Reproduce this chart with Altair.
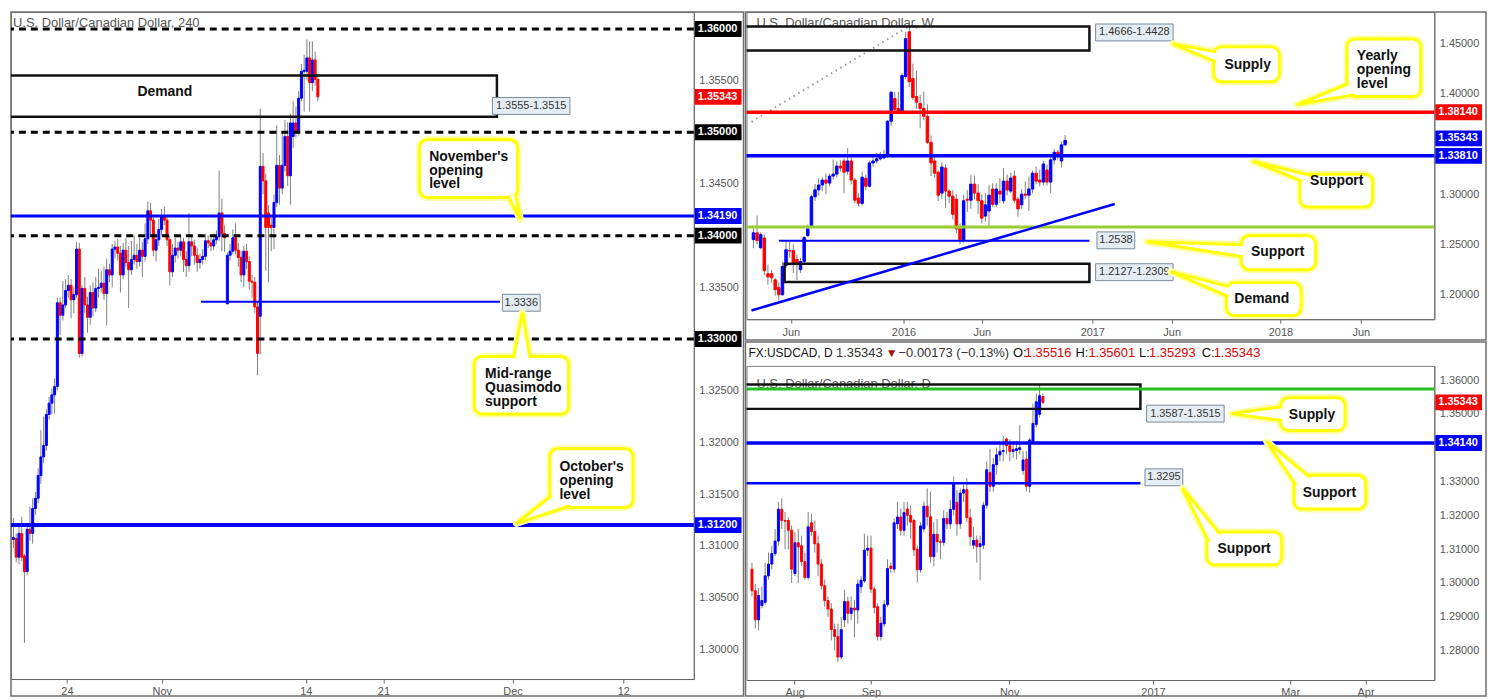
import altair as alt
import pandas as pd

FONT = "Liberation Sans"
UP_C, DN_C, WICK_C = "#0000ff", "#ff0000", "#7f7f7f"
YEL, HALO = "#ffff00", "#ffffa8"
LBL, FRAME = "#555555", "#6e6e6e"

# ================= 4-hour panel (left) =================
h4_open = [1.3106, 1.3107, 1.3089, 1.3112, 1.3090, 1.3075, 1.3116, 1.3112, 1.3136, 1.3146,
           1.3168, 1.3186, 1.3197, 1.3227, 1.3238, 1.3246, 1.3254, 1.3335, 1.3323, 1.3333,
           1.3347, 1.3352, 1.3338, 1.3343, 1.3387, 1.3286, 1.3349, 1.3333, 1.3321, 1.3345,
           1.3330, 1.3349, 1.3350, 1.3354, 1.3344, 1.3367, 1.3362, 1.3387, 1.3389, 1.3383,
           1.3362, 1.3386, 1.3374, 1.3367, 1.3377, 1.3381, 1.3375, 1.3386, 1.3380, 1.3397,
           1.3424, 1.3415, 1.3386, 1.3396, 1.3406, 1.3419, 1.3415, 1.3396, 1.3365, 1.3381,
           1.3388, 1.3386, 1.3394, 1.3377, 1.3371, 1.3394, 1.3390, 1.3381, 1.3374, 1.3377,
           1.3380, 1.3395, 1.3393, 1.3390, 1.3396, 1.3399, 1.3422, 1.3402, 1.3334, 1.3381,
           1.3385, 1.3398, 1.3386, 1.3379, 1.3362, 1.3385, 1.3375, 1.3356, 1.3355, 1.3331,
           1.3322, 1.3467, 1.3453, 1.3422, 1.3410, 1.3408, 1.3432, 1.3468, 1.3446, 1.3468,
           1.3496, 1.3458, 1.3496, 1.3509, 1.3500, 1.3533, 1.3559, 1.3559, 1.3572, 1.3548,
           1.3570, 1.3551]
h4_close = [1.3108, 1.3089, 1.3112, 1.3089, 1.3075, 1.3116, 1.3112, 1.3136, 1.3146, 1.3168,
            1.3186, 1.3197, 1.3227, 1.3238, 1.3246, 1.3254, 1.3335, 1.3323, 1.3333, 1.3347,
            1.3352, 1.3338, 1.3343, 1.3387, 1.3286, 1.3349, 1.3333, 1.3321, 1.3345, 1.3330,
            1.3349, 1.3350, 1.3354, 1.3344, 1.3367, 1.3362, 1.3387, 1.3389, 1.3383, 1.3362,
            1.3386, 1.3374, 1.3367, 1.3377, 1.3381, 1.3375, 1.3386, 1.3380, 1.3397, 1.3424,
            1.3415, 1.3386, 1.3396, 1.3406, 1.3419, 1.3415, 1.3396, 1.3365, 1.3381, 1.3388,
            1.3386, 1.3394, 1.3377, 1.3371, 1.3394, 1.3390, 1.3381, 1.3374, 1.3377, 1.3380,
            1.3395, 1.3393, 1.3390, 1.3396, 1.3399, 1.3422, 1.3402, 1.3398, 1.3381, 1.3385,
            1.3398, 1.3386, 1.3379, 1.3362, 1.3385, 1.3375, 1.3356, 1.3355, 1.3331, 1.3286,
            1.3467, 1.3453, 1.3408, 1.3408, 1.3408, 1.3432, 1.3468, 1.3446, 1.3468, 1.3496,
            1.3458, 1.3509, 1.3509, 1.3500, 1.3533, 1.3559, 1.3560, 1.3572, 1.3548, 1.3570,
            1.3551, 1.35343]
h4_high = [1.3127, 1.3112, 1.3122, 1.3128, 1.3092, 1.3120, 1.3138, 1.3146, 1.3152, 1.3175,
           1.3212, 1.3225, 1.3232, 1.3244, 1.3252, 1.3262, 1.3340, 1.3340, 1.3356, 1.3358,
           1.3362, 1.3358, 1.3350, 1.3394, 1.3393, 1.3352, 1.3360, 1.3341, 1.3352, 1.3355,
           1.3360, 1.3368, 1.3366, 1.3370, 1.3378, 1.3373, 1.3392, 1.3395, 1.3397, 1.3390,
           1.3393, 1.3398, 1.3390, 1.3395, 1.3400, 1.3392, 1.3398, 1.3394, 1.3412, 1.3433,
           1.3432, 1.3420, 1.3402, 1.3416, 1.3426, 1.3428, 1.3420, 1.3400, 1.3392, 1.3398,
           1.3394, 1.3400, 1.3398, 1.3385, 1.3422, 1.3400, 1.3396, 1.3388, 1.3382, 1.3387,
           1.3402, 1.3400, 1.3398, 1.3402, 1.3405, 1.3463, 1.3436, 1.3410, 1.3384, 1.3392,
           1.3406, 1.3412, 1.3393, 1.3385, 1.3390, 1.3392, 1.3380, 1.3362, 1.3360, 1.3336,
           1.3523, 1.3480, 1.3460, 1.3430, 1.3418, 1.3440, 1.3507, 1.3478, 1.3500, 1.3512,
           1.3510, 1.3518, 1.3530, 1.3525, 1.3540, 1.3566, 1.3575, 1.3590, 1.3588, 1.3588,
           1.3578, 1.3556]
h4_low = [1.3098, 1.3084, 1.3082, 1.3085, 1.3006, 1.3072, 1.3105, 1.3102, 1.3130, 1.3141,
          1.3160, 1.3180, 1.3192, 1.3222, 1.3227, 1.3228, 1.3250, 1.3304, 1.3318, 1.3330,
          1.3340, 1.3320, 1.3325, 1.3340, 1.3282, 1.3283, 1.3325, 1.3306, 1.3314, 1.3322,
          1.3326, 1.3340, 1.3345, 1.3338, 1.3313, 1.3355, 1.3350, 1.3378, 1.3376, 1.3345,
          1.3358, 1.3370, 1.3330, 1.3362, 1.3372, 1.3368, 1.3370, 1.3360, 1.3375, 1.3392,
          1.3400, 1.3380, 1.3375, 1.3390, 1.3400, 1.3410, 1.3390, 1.3352, 1.3360, 1.3374,
          1.3378, 1.3380, 1.3365, 1.3360, 1.3365, 1.3380, 1.3372, 1.3365, 1.3368, 1.3372,
          1.3376, 1.3388, 1.3385, 1.3386, 1.3392, 1.3395, 1.3385, 1.3384, 1.3334, 1.3376,
          1.3382, 1.3382, 1.3370, 1.3355, 1.3350, 1.3368, 1.3348, 1.3340, 1.3325, 1.3265,
          1.3285, 1.3440, 1.3366, 1.3355, 1.3385, 1.3387, 1.3428, 1.3430, 1.3440, 1.3462,
          1.3448, 1.3430, 1.3485, 1.3495, 1.3497, 1.3530, 1.3520, 1.3550, 1.3520, 1.3540,
          1.3545, 1.3530]
h4_tick_pos = [20, 54.6, 107.1, 135.4, 182.5, 222.9]
h4_tick_lab = ["24", "Nov", "14", "21", "Dec", "12"]
# grey axis labels (the round levels are shown as black tags instead)
h4_price_ticks = [1.300, 1.305, 1.310, 1.315, 1.320, 1.325, 1.335, 1.345, 1.355]
h4_round_levels = [1.36, 1.35, 1.34, 1.33]
h4_nov_open = 1.3419
h4_oct_open = 1.3120
h4_qm = 1.3336
h4_demand = [1.3515, 1.3555]

# ================= Weekly panel (top right) =================
wk_open = [1.2549, 1.2616, 1.2468, 1.2565, 1.2210, 1.2210, 1.2149, 1.2072, 1.2001, 1.2291,
           1.2440, 1.2438, 1.2351, 1.2250, 1.2331, 1.2589, 1.2687, 1.2975, 1.3043, 1.3091,
           1.3140, 1.3110, 1.3180, 1.3199, 1.3280, 1.3330, 1.3229, 1.3330, 1.3140, 1.2960,
           1.2909, 1.3158, 1.3079, 1.3310, 1.3330, 1.3351, 1.3361, 1.3381, 1.3725, 1.3951,
           1.3852, 1.3822, 1.4168, 1.4613, 1.4149, 1.3970, 1.3902, 1.3852, 1.3774, 1.3515,
           1.3330, 1.3219, 1.3011, 1.3260, 1.3031, 1.2980, 1.2950, 1.2656, 1.2549, 1.2950,
           1.2940, 1.3100, 1.3011, 1.2935, 1.2783, 1.2833, 1.3051, 1.2900, 1.3031, 1.2934,
           1.3130, 1.3031, 1.3180, 1.2950, 1.2894, 1.3001, 1.2990, 1.3051, 1.3209, 1.3140,
           1.3120, 1.3240, 1.3120, 1.3341, 1.3417, 1.3330, 1.3490]
wk_close = [1.2616, 1.2539, 1.2600, 1.2240, 1.2179, 1.2169, 1.2052, 1.2001, 1.2281, 1.2448,
            1.2436, 1.2301, 1.2301, 1.2331, 1.2569, 1.2656, 1.2975, 1.3043, 1.3091, 1.3140,
            1.3110, 1.3180, 1.3199, 1.3280, 1.3260, 1.3219, 1.3330, 1.3140, 1.2940, 1.2909,
            1.3169, 1.3079, 1.3310, 1.3330, 1.3351, 1.3371, 1.3381, 1.3725, 1.4012, 1.3843,
            1.3822, 1.4178, 1.4545, 1.4118, 1.3960, 1.3913, 1.3852, 1.3774, 1.3515, 1.3310,
            1.3209, 1.2990, 1.3270, 1.3031, 1.2980, 1.2800, 1.2656, 1.2549, 1.2935, 1.2940,
            1.3100, 1.3011, 1.2935, 1.2762, 1.2894, 1.2990, 1.2900, 1.3051, 1.3001, 1.3130,
            1.3041, 1.3160, 1.2940, 1.2854, 1.3000, 1.2990, 1.3051, 1.3209, 1.3130, 1.3120,
            1.3300, 1.3120, 1.3341, 1.3417, 1.3386, 1.3490, 1.35343]
wk_high = [1.2679, 1.2788, 1.2619, 1.2599, 1.2301, 1.2248, 1.2168, 1.2122, 1.2328, 1.2543,
           1.2533, 1.2503, 1.2398, 1.2368, 1.2583, 1.2699, 1.2994, 1.3101, 1.3157, 1.3167,
           1.3205, 1.3205, 1.3345, 1.3325, 1.3335, 1.3355, 1.3460, 1.3400, 1.3160, 1.3009,
           1.3225, 1.3195, 1.3335, 1.3365, 1.3410, 1.3420, 1.3440, 1.3735, 1.4027, 1.4017,
           1.4017, 1.4202, 1.4613, 1.4700, 1.4296, 1.4228, 1.3987, 1.4020, 1.3893, 1.3585,
           1.3375, 1.3235, 1.3315, 1.3295, 1.3049, 1.3039, 1.2999, 1.2709, 1.2994, 1.3039,
           1.3189, 1.3185, 1.3099, 1.2999, 1.3010, 1.3089, 1.3108, 1.3108, 1.3158, 1.3260,
           1.3195, 1.3215, 1.3235, 1.2970, 1.3049, 1.3128, 1.3176, 1.3235, 1.3275, 1.3245,
           1.3335, 1.3295, 1.3365, 1.3450, 1.3440, 1.3525, 1.3588]
wk_low = [1.2463, 1.2503, 1.2453, 1.2198, 1.2100, 1.2118, 1.1992, 1.1944, 1.1992, 1.2268,
          1.2368, 1.2218, 1.2148, 1.2218, 1.2308, 1.2573, 1.2659, 1.2934, 1.2984, 1.3029,
          1.2999, 1.3077, 1.3145, 1.3165, 1.3225, 1.3009, 1.3195, 1.3097, 1.2909, 1.2880,
          1.2889, 1.3039, 1.3067, 1.3275, 1.3305, 1.3335, 1.3345, 1.3365, 1.3677, 1.3821,
          1.3810, 1.3810, 1.4142, 1.4065, 1.3937, 1.3850, 1.3655, 1.3735, 1.3497, 1.3180,
          1.3165, 1.2932, 1.2950, 1.2862, 1.2911, 1.2752, 1.2610, 1.2500, 1.2518, 1.2824,
          1.2854, 1.2950, 1.2805, 1.2710, 1.2728, 1.2685, 1.2874, 1.2874, 1.2910, 1.2904,
          1.2990, 1.3010, 1.2910, 1.2776, 1.2854, 1.2950, 1.2833, 1.3009, 1.3097, 1.3077,
          1.3087, 1.3087, 1.3011, 1.3295, 1.3345, 1.3265, 1.3480]
wk_tick_pos = [10.3, 41.4, 63.0, 93.5, 115.4, 145.4, 167.6]
wk_tick_lab = ["Jun", "2016", "Jun", "2017", "Jun", "2018", "Jun"]
wk_price_ticks = [1.20, 1.25, 1.30, 1.40, 1.45]
wk_yearly_open = 1.3814
wk_support = 1.3381
wk_support2 = 1.2538
wk_green = 1.2675
wk_supply = [1.4428, 1.4666]
wk_demand = [1.2127, 1.2309]

# ================= Daily panel (bottom right) =================
d_open = [1.3041, 1.2977, 1.2891, 1.2933, 1.2943, 1.3021, 1.3056, 1.3087, 1.3124, 1.3218,
          1.3185, 1.3185, 1.3156, 1.3028, 1.3119, 1.3110, 1.3063, 1.3016, 1.3178, 1.3152,
          1.3116, 1.3056, 1.2992, 1.2948, 1.2923, 1.2862, 1.2842, 1.2781, 1.2891, 1.2945,
          1.2910, 1.2926, 1.2920, 1.2989, 1.3006, 1.3097, 1.3103, 1.2982, 1.2930, 1.2842,
          1.2879, 1.2936, 1.3050, 1.3041, 1.3175, 1.3195, 1.3156,
          1.3219, 1.3200, 1.3185, 1.3100, 1.3039, 1.3160, 1.3227, 1.3196, 1.3078, 1.3144,
          1.3122, 1.3120, 1.3191, 1.3175, 1.3218, 1.3239, 1.3175, 1.3266, 1.3276, 1.3193,
          1.3112, 1.3127, 1.3108, 1.3112, 1.3230, 1.3327, 1.3286, 1.3350, 1.3379, 1.3389,
          1.3426, 1.3406, 1.3389, 1.3392, 1.3395, 1.3333, 1.3366, 1.3286, 1.3419, 1.3469,
          1.3499, 1.35516]
d_close = [1.2977, 1.2891, 1.2963, 1.2948, 1.3021, 1.3056, 1.3087, 1.3124, 1.3218, 1.3185,
           1.3183, 1.3156, 1.3041, 1.3119, 1.3107, 1.3063, 1.3016, 1.3166, 1.3152, 1.3116,
           1.3056, 1.2992, 1.2948, 1.2923, 1.2862, 1.2842, 1.2781, 1.2862, 1.2945, 1.2910,
           1.2926, 1.2920, 1.2997, 1.3008, 1.3097, 1.3103, 1.2982, 1.2928, 1.2842, 1.2881,
           1.2936, 1.3043, 1.3043, 1.3178, 1.3195, 1.3156, 1.3208,
           1.3200, 1.3180, 1.3098, 1.3039, 1.3169, 1.3227, 1.3196, 1.3078, 1.3144, 1.3122,
           1.3120, 1.3191, 1.3175, 1.3218, 1.3296, 1.3175, 1.3266, 1.3276, 1.3193, 1.3137,
           1.3126, 1.3108, 1.3116, 1.3230, 1.3335, 1.3286, 1.3350, 1.3379, 1.3389, 1.3392,
           1.3406, 1.3389, 1.3395, 1.3397, 1.3400, 1.3364, 1.3286, 1.3423, 1.3472, 1.3536,
           1.3554, 1.35343]
d_high = [1.3060, 1.2997, 1.2985, 1.2990, 1.3060, 1.3090, 1.3110, 1.3160, 1.3240, 1.3250,
          1.3210, 1.3195, 1.3170, 1.3150, 1.3160, 1.3140, 1.3090, 1.3210, 1.3205, 1.3185,
          1.3140, 1.3070, 1.3010, 1.2960, 1.2940, 1.2880, 1.2880, 1.2900, 1.2980, 1.2960,
          1.2960, 1.2950, 1.3010, 1.3020, 1.3146, 1.3140, 1.3140, 1.2990, 1.2940, 1.2900,
          1.2950, 1.3070, 1.3060, 1.3190, 1.3240, 1.3220, 1.3240,
          1.3240, 1.3230, 1.3190, 1.3110, 1.3180, 1.3240, 1.3280, 1.3270, 1.3180, 1.3190,
          1.3130, 1.3215, 1.3210, 1.3245, 1.3315, 1.3275, 1.3280, 1.3290, 1.3310, 1.3220,
          1.3165, 1.3140, 1.3140, 1.3240, 1.3360, 1.3397, 1.3370, 1.3400, 1.3410, 1.3435,
          1.3430, 1.3425, 1.3420, 1.3420, 1.3467, 1.3390, 1.3390, 1.3430, 1.3530, 1.3560,
          1.3588, 1.35601]
d_low = [1.2960, 1.2865, 1.2860, 1.2925, 1.2935, 1.3010, 1.3040, 1.3080, 1.3110, 1.3160,
         1.3100, 1.3100, 1.3000, 1.3020, 1.3000, 1.3050, 1.3010, 1.3010, 1.3140, 1.3090,
         1.3020, 1.2980, 1.2930, 1.2900, 1.2830, 1.2800, 1.2767, 1.2775, 1.2870, 1.2880,
         1.2890, 1.2840, 1.2880, 1.2970, 1.3000, 1.3080, 1.2970, 1.2910, 1.2830, 1.2830,
         1.2870, 1.2930, 1.3030, 1.3030, 1.3160, 1.3140, 1.3140,
         1.3170, 1.3130, 1.3080, 1.3002, 1.3030, 1.3150, 1.3170, 1.3060, 1.3050, 1.3090,
         1.3070, 1.3110, 1.3160, 1.3160, 1.3200, 1.3140, 1.3160, 1.3240, 1.3180, 1.3110,
         1.3100, 1.3060, 1.3008, 1.3100, 1.3220, 1.3270, 1.3270, 1.3320, 1.3360, 1.3360,
         1.3380, 1.3360, 1.3370, 1.3365, 1.3380, 1.3320, 1.3270, 1.3267, 1.3410, 1.3460,
         1.3490, 1.35293]
d_tick_pos = [12.9, 36.0, 77.8, 121.3, 162.8, 185.6]
d_tick_lab = ["Aug", "Sep", "Nov", "2017", "Mar", "Apr"]
d_price_ticks = [1.28, 1.29, 1.30, 1.31, 1.32, 1.33, 1.35, 1.36]
d_green = 1.3574
d_support = 1.3414
d_support2 = 1.3295
d_supply = [1.3515, 1.3587]
d_header_text = ["FX:USDCAD, D", "1.35343", "▼", "−0.00173 (−0.13%)", "O:", "1.35516",
                 "H:", "1.35601", "L:", "1.35293", "C:", "1.35343"]

# ================= layout =================
LW, LH = 687, 671
RW, WH, DH = 692, 309, 316


class Panel:
    def __init__(self, xdom, ydom, xvals, xlabs, yvals):
        self.xs = alt.Scale(domain=xdom, nice=False, zero=False)
        self.ys = alt.Scale(domain=ydom, nice=False, zero=False)
        v = ",".join(repr(float(a)) for a in xvals)
        l = ",".join("'" + s + "'" for s in xlabs)
        self.xa = alt.Axis(values=xvals, labelExpr=f"[{l}][indexof([{v}], datum.value)]",
                           title=None, grid=False, tickSize=4, tickColor="#666666",
                           domainColor="#666666", labelColor=LBL, labelFontSize=11,
                           labelFont=FONT, labelPadding=3, labelOverlap=False,
                           labelFlush=False)
        self.ya = alt.Axis(orient="right", values=yvals, format=".5f", title=None,
                           grid=False, ticks=False, domainColor="#666666", labelColor=LBL,
                           labelFontSize=11, labelFont=FONT, labelPadding=5,
                           labelOverlap=False, labelFlush=False)

    def X(self, f):
        return alt.X(f, type="quantitative", scale=self.xs, axis=self.xa)

    def Y(self, f):
        return alt.Y(f, type="quantitative", scale=self.ys, axis=self.ya)


def candles(P, o, h, l, c, off, bw):
    df = pd.DataFrame({"n": list(range(len(o))), "o": o, "h": h, "l": l, "c": c})
    base = alt.Chart(df).transform_calculate(
        xc=f"datum.n + {off}", d="datum.c >= datum.o ? 'up' : 'down'")
    cs = alt.Scale(domain=["up", "down"], range=[UP_C, DN_C])
    wick = base.mark_rule(color=WICK_C, strokeWidth=1, clip=True).encode(
        x=P.X("xc"), y=P.Y("l"), y2=alt.Y2("h"))
    body = base.mark_bar(size=bw, strokeWidth=1, clip=True).encode(
        x=P.X("xc"), y=P.Y("o"), y2=alt.Y2("c"),
        color=alt.Color("d:N", scale=cs, legend=None),
        stroke=alt.Stroke("d:N", scale=cs, legend=None))
    return [wick, body]


def hlines(P, prices, color, width, dash=None):
    kw = dict(color=color, strokeWidth=width)
    if dash:
        kw["strokeDash"] = dash
    return alt.Chart(pd.DataFrame({"p": prices})).mark_rule(**kw).encode(y=P.Y("p"))


def seg(P, x1, x2, y1, y2, color, width, dash=None):
    kw = dict(color=color, strokeWidth=width, clip=True)
    if dash:
        kw["strokeDash"] = dash
    df = pd.DataFrame({"x1": [x1], "x2": [x2], "y1": [y1], "y2": [y2]})
    return alt.Chart(df).mark_rule(**kw).encode(
        x=P.X("x1"), x2=alt.X2("x2"), y=P.Y("y1"), y2=alt.Y2("y2"))


def zone(P, x1, x2, lo, hi):
    df = pd.DataFrame({"x1": [x1], "x2": [x2], "y1": [lo], "y2": [hi]})
    return alt.Chart(df).mark_rect(filled=False, color="#111111", strokeWidth=2.5,
                                   clip=True).encode(
        x=P.X("x1"), x2=alt.X2("x2"), y=P.Y("y1"), y2=alt.Y2("y2"))


def ptag(P, xc, yc, text, w):
    df = pd.DataFrame({"x": [xc], "y": [yc], "t": [text]})
    b = alt.Chart(df)
    r = b.mark_rect(fill="#e5edf4", stroke="#7b8a97", strokeWidth=1,
                    xOffset=-w / 2, x2Offset=w / 2, yOffset=-8.5, y2Offset=8.5).encode(
        x=P.X("x"), x2=alt.X2("x"), y=P.Y("y"), y2=alt.Y2("y"))
    t = b.mark_text(font=FONT, fontSize=11, color="#333333").encode(
        x=P.X("x"), y=P.Y("y"), text="t:N")
    return [r, t]


def rtag(P, W, p, text, fill, dy=0):
    df = pd.DataFrame({"p": [p], "t": [text]})
    b = alt.Chart(df)
    r = b.mark_rect(color=fill, yOffset=-8 + dy, y2Offset=8 + dy).encode(
        x=alt.value(W + 1), x2=alt.value(W + 48), y=P.Y("p"), y2=alt.Y2("p"))
    t = b.mark_text(font=FONT, fontSize=11, fontWeight="bold", color="white",
                    align="left", baseline="middle", dy=dy).encode(
        x=alt.value(W + 4), y=P.Y("p"), text="t:N")
    return [r, t]


def callouts(P, boxes, pointers, texts):
    bdf = pd.DataFrame(boxes, columns=["x1", "x2", "y1", "y2"])
    rows = []
    for g, pts in enumerate(pointers):
        for k, (px, py) in enumerate(pts):
            rows.append({"g": g, "k": k, "x": px, "y": py})
    pdf = pd.DataFrame(rows)
    tdf = pd.DataFrame(texts, columns=["t", "x", "y"])
    halo_box = alt.Chart(bdf).mark_rect(cornerRadius=8, fill="white", stroke=HALO,
                                        strokeWidth=7).encode(
        x=P.X("x1"), x2=alt.X2("x2"), y=P.Y("y1"), y2=alt.Y2("y2"))
    halo_ptr = alt.Chart(pdf).mark_line(stroke=HALO, strokeWidth=7,
                                        strokeJoin="round").encode(
        x=P.X("x"), y=P.Y("y"), detail="g:N", order="k:Q")
    box = alt.Chart(bdf).mark_rect(cornerRadius=8, fill="white", stroke=YEL,
                                   strokeWidth=3).encode(
        x=P.X("x1"), x2=alt.X2("x2"), y=P.Y("y1"), y2=alt.Y2("y2"))
    ptr = alt.Chart(pdf).mark_line(stroke=YEL, strokeWidth=3, fill="white").encode(
        x=P.X("x"), y=P.Y("y"), detail="g:N", order="k:Q")
    txt = alt.Chart(tdf).mark_text(align="left", baseline="top", font=FONT, fontSize=14,
                                   fontWeight="bold", lineBreak="\n", lineHeight=14,
                                   color="#111111").encode(
        x=P.X("x"), y=P.Y("y"), text="t:N")
    return [halo_box, halo_ptr, box, ptr, txt]


def frame(x0, x1, y0, y1):
    return alt.Chart(pd.DataFrame({"a": [0]})).mark_rect(
        filled=False, color=FRAME, strokeWidth=1.5).encode(
        x=alt.value(x0), x2=alt.value(x1), y=alt.value(y0), y2=alt.value(y1))


def label_text(t, x, y, size=13, color=LBL):
    return alt.Chart(pd.DataFrame({"t": [t]})).mark_text(
        align="left", baseline="middle", font=FONT, fontSize=size, color=color).encode(
        x=alt.value(x), y=alt.value(y), text="t:N")


# ---------------- left panel ----------------
LP = Panel([1.4, 246.8], [1.29711, 1.36163], h4_tick_pos, h4_tick_lab, h4_price_ticks)
left_layers = [frame(0, LW + 50, 0, LH + 17),
               label_text("U.S. Dollar/Canadian Dollar, 240", 2, 11)]
left_layers += candles(LP, h4_open, h4_high, h4_low, h4_close, 0.5, 2)
left_layers += [
    hlines(LP, h4_round_levels, "#000000", 3, [7, 5]),
    hlines(LP, [h4_nov_open], UP_C, 3),
    hlines(LP, [h4_oct_open], UP_C, 4),
    zone(LP, -3, 176.8, h4_demand[0], h4_demand[1]),
    alt.Chart(pd.DataFrame({"t": ["Demand"], "x": [45.7], "y": [1.35457]})).mark_text(
        align="left", baseline="top", font=FONT, fontSize=14, fontWeight="bold",
        color="#111111").encode(x=LP.X("x"), y=LP.Y("y"), text="t:N"),
    seg(LP, 68.9, 177.9, h4_qm, h4_qm, UP_C, 2),
]
left_layers += ptag(LP, 189.3, 1.35255, "1.3555-1.3515", 78)
left_layers += ptag(LP, 185.7, 1.33351, "1.3336", 38)
left_layers += callouts(
    LP,
    [(148.6, 184.3, 1.34928, 1.34370), (168.6, 202.9, 1.32832, 1.32274),
     (196.1, 226.4, 1.31938, 1.31370)],
    [[(180.7, 1.34389), (185.4, 1.34159), (183.6, 1.34389)],
     [(182.9, 1.32813), (186.1, 1.33255), (188.9, 1.32813)],
     [(196.8, 1.31486), (183.9, 1.31216), (203.6, 1.31389)]],
    [("November's\nopening\nlevel", 152.1, 1.34832),
     ("Mid-range\nQuasimodo\nsupport", 172.5, 1.32729),
     ("October's\nopening\nlevel", 199.6, 1.31832)])
for p, t, f in [(1.36, "1.36000", "#000000"), (1.35, "1.35000", "#000000"),
                (1.34, "1.34000", "#000000"), (1.33, "1.33000", "#000000"),
                (1.35343, "1.35343", DN_C), (1.3419, "1.34190", UP_C),
                (1.3120, "1.31200", UP_C)]:
    left_layers += rtag(LP, LW, p, t, f)
left = alt.layer(*left_layers).properties(width=LW, height=LH)

# ---------------- weekly panel ----------------
WP = Panel([-0.54, 186.5], [1.1758, 1.4809], wk_tick_pos, wk_tick_lab, wk_price_ticks)
wk_layers = [frame(-1, RW + 52, 0, WH + 21),
             label_text("U.S. Dollar/Canadian Dollar, W", 10, 11)]
wk_layers += candles(WP, wk_open, wk_high, wk_low, wk_close, 0, 2.5)
wk_layers += [
    seg(WP, -0.54, 43.2, 1.3719, 1.4674, "#999999", 2, [1.5, 4]),
    zone(WP, -3, 92.7, wk_supply[0], wk_supply[1]),
    hlines(WP, [wk_yearly_open], DN_C, 3.5),
    hlines(WP, [wk_support], UP_C, 3.5),
    hlines(WP, [wk_green], "#9acd32", 3),
    seg(WP, 7.0, 92.7, wk_support2, wk_support2, UP_C, 2),
    zone(WP, 8.6, 92.7, wk_demand[0], wk_demand[1]),
    seg(WP, -0.54, 99.7, 1.1845, 1.2902, UP_C, 2.5),
]
wk_layers += ptag(WP, 105.1, 1.46067, "1.4666-1.4428", 78)
wk_layers += ptag(WP, 100.0, 1.25415, "1.2538", 38)
wk_layers += ptag(WP, 105.1, 1.22253, "1.2127-1.2309", 78)
wk_layers += callouts(
    WP,
    [(127.0, 145.1, 1.44634, 1.41176), (163.8, 184.1, 1.45425, 1.39694),
     (150.8, 170.8, 1.31986, 1.28725), (134.6, 155.1, 1.25860, 1.22500),
     (130.5, 151.1, 1.21215, 1.17954)],
    [[(127.6, 1.44140), (115.7, 1.44931), (127.6, 1.43152)],
     [(164.3, 1.40978), (150.0, 1.38903), (165.9, 1.39891)],
     [(151.4, 1.31294), (137.8, 1.33270), (154.6, 1.31788)],
     [(135.1, 1.24970), (108.6, 1.25267), (135.1, 1.23784)],
     [(131.1, 1.20820), (115.1, 1.22303), (131.1, 1.19832)]],
    [("Supply", 130.0, 1.43547), ("Yearly\nopening\nlevel", 166.5, 1.44368),
     ("Support", 153.6, 1.31998), ("Support", 137.3, 1.24970),
     ("Demand", 132.7, 1.20326)])
wk_layers += rtag(WP, RW, 1.3814, "1.38140", DN_C)
wk_layers += rtag(WP, RW, 1.35343, "1.35343", UP_C, -2)
wk_layers += rtag(WP, RW, 1.3381, "1.33810", UP_C)
weekly = alt.layer(*wk_layers).properties(width=RW, height=WH)

# ---------------- daily panel ----------------
DP = Panel([-0.15, 204.9], [1.2713, 1.3642], d_tick_pos, d_tick_lab, d_price_ticks)
hdr_x = [2, 90, 140, 153, 268, 280, 331, 344, 395, 405, 458, 470]
hdr_col = ["#111111", "#333333", "#a01010", "#333333", "#111111", "#e00000",
           "#111111", "#e00000", "#111111", "#e00000", "#111111", "#e00000"]
hdr_size = [12, 13, 12, 13, 13, 13, 13, 13, 13, 13, 13, 13]
d_layers = [frame(-1, RW + 52, -24, DH + 16),
            label_text("U.S. Dollar/Canadian Dollar, D", 10, 18)]
for t, x, col, s in zip(d_header_text, hdr_x, hdr_col, hdr_size):
    d_layers.append(label_text(t, x, -13, s, col))
d_layers += candles(DP, d_open, d_high, d_low, d_close, 0, 2)
d_layers += [
    zone(DP, -3, 117.5, d_supply[0], d_supply[1]),
    hlines(DP, [d_green], "#22c022", 3),
    hlines(DP, [d_support], UP_C, 3.5),
    seg(DP, -3, 117.5, d_support2, d_support2, UP_C, 2.5),
]
d_layers += ptag(DP, 131.1, 1.35009, "1.3587-1.3515", 78)
d_layers += ptag(DP, 124.6, 1.33126, "1.3295", 38)
d_layers += callouts(
    DP,
    [(159.9, 179.4, 1.35479, 1.34509), (164.0, 185.6, 1.33185, 1.32185),
     (137.6, 160.2, 1.31509, 1.30538)],
    [[(160.4, 1.35215), (145.0, 1.35009), (160.4, 1.34803)],
     [(164.6, 1.32891), (155.7, 1.34185), (168.7, 1.33126)],
     [(138.2, 1.31215), (130.2, 1.32803), (141.5, 1.31450)]],
    [("Supply", 162.4, 1.35185), ("Support", 166.6, 1.32862),
     ("Support", 140.8, 1.31215)])
d_layers += rtag(DP, RW, 1.35343, "1.35343", DN_C)
d_layers += rtag(DP, RW, 1.3414, "1.34140", UP_C)
daily = alt.layer(*d_layers).properties(width=RW, height=DH)

right = alt.vconcat(weekly, daily, spacing=47, bounds="flush")
chart = alt.hconcat(left, right, spacing=53, bounds="flush").properties(
    padding=0, background="white"
).configure(font=FONT).configure_view(stroke="#808080", strokeWidth=1)

chart.save("out.html", embed_options={"renderer": "svg", "actions": False})
